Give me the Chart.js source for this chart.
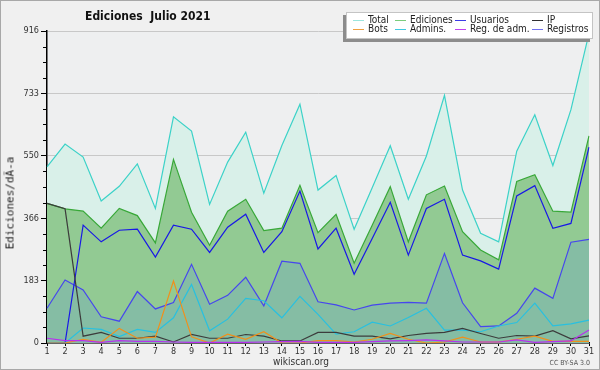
<!DOCTYPE html>
<html>
<head>
<meta charset="utf-8">
<script src="https://cdn.jsdelivr.net/npm/chart.js@4.4.1/dist/chart.umd.min.js"></script>
<style>
  html, body { margin: 0; padding: 0; background: #f0f0f0; }
  #wrap { position: relative; width: 600px; height: 370px; box-sizing: border-box; border: 1px solid #a8a8a8; background: #f0f0f0; overflow: hidden; }
  #chart { position: absolute; left: -1px; top: -1px; }
  .txt { position: absolute; font-family: "DejaVu Sans Condensed", "DejaVu Sans", sans-serif; color: #222; white-space: nowrap; }
  #title { left: 84px; top: 8px; font-size: 12px; font-weight: bold; color: #111; }
  #ylab { left: 9px; top: 202px; font-family: "DejaVu Sans Mono", monospace; font-size: 11px; transform: translate(-50%, -50%) rotate(-90deg); }
  #site { left: 300px; top: 355px; font-size: 10px; transform: translateX(-50%); color: #333; }
  #lic { right: 9px; top: 358px; font-size: 7px; color: #555; }
  #legend { position: absolute; left: 345px; top: 11px; width: 245px; height: 25px; background: #fff; border: 1px solid #c4c4c4; box-shadow: -3px 3px 0 #8c8c8c; }
</style>
</head>
<body>
<div id="wrap">
  <canvas id="chart" width="600" height="370"></canvas>
  <div id="title" class="txt">Ediciones&nbsp; Julio 2021</div>
  <div id="ylab" class="txt">Ediciones/dÃ-a</div>
  <div id="site" class="txt">wikiscan.org</div>
  <div id="lic" class="txt">CC BY-SA 3.0</div>
  <div id="legend"></div>
</div>
<script>
const days = ['1','2','3','4','5','6','7','8','9','10','11','12','13','14','15','16','17','18','19','20','21','22','23','24','25','26','27','28','29','30','31'];
const yTickLabels = [0, 183, 366, 550, 733, 916];

const total = [517, 584, 546, 417, 460, 526, 395, 664, 622, 407, 531, 619, 440, 580, 701, 449, 492, 334, 456, 579, 422, 549, 727, 449, 322, 297, 563, 670, 521, 685, 909];
const ediciones = [410, 394, 387, 337, 395, 374, 294, 539, 384, 287, 387, 422, 330, 337, 463, 324, 378, 234, 346, 459, 297, 435, 461, 327, 273, 244, 474, 494, 387, 384, 608];
const usuarios = [0, 0, 346, 297, 331, 334, 252, 346, 334, 266, 340, 378, 266, 327, 446, 276, 337, 202, 307, 413, 258, 395, 422, 258, 241, 217, 432, 462, 337, 351, 575];
const ip = [410, 394, 20, 31, 14, 14, 20, 3, 25, 14, 14, 25, 20, 6, 6, 31, 31, 20, 20, 12, 22, 28, 31, 43, 28, 14, 22, 20, 36, 12, 21];
const bots = [0, 0, 11, 2, 43, 14, 17, 182, 18, 0, 26, 11, 33, 0, 0, 7, 7, 3, 11, 28, 11, 0, 3, 17, 3, 3, 11, 20, 5, 5, 5];
const admins = [0, 0, 44, 40, 19, 40, 31, 74, 172, 36, 70, 131, 124, 74, 137, 84, 26, 33, 61, 50, 75, 102, 38, 38, 33, 50, 60, 117, 50, 56, 67];
const regAdm = [14, 7, 7, 2, 7, 5, 5, 3, 2, 2, 2, 2, 3, 4, 5, 2, 2, 2, 4, 6, 7, 9, 6, 3, 3, 3, 9, 2, 4, 6, 38];
const registros = [102, 185, 156, 77, 64, 151, 100, 119, 231, 114, 140, 193, 109, 240, 234, 121, 112, 97, 111, 117, 119, 117, 263, 118, 48, 50, 87, 161, 131, 296, 304];

// legend in the same order as the picture (two rows of four)
const legendItems = [
  ['Total', '#9be6de'], ['Ediciones', '#7ccc7c'], ['Usuarios', '#3c3ce6'], ['IP', '#303030'],
  ['Bots', '#f0a040'], ['Admins.', '#40c8e0'], ['Reg. de adm.', '#c040f0'], ['Registros', '#7070f0']
];
const legendCols = [21, 63, 123, 200];

const legendBox = document.getElementById('legend');
legendItems.forEach(function (item, i) {
  const col = i % 4, row = Math.floor(i / 4);
  const sw = document.createElement('div');
  sw.style.cssText = 'position:absolute;width:11px;height:1px;background:' + item[1] + ';left:' + (legendCols[col] - 15) + 'px;top:' + (7 + row * 9) + 'px;';
  const t = document.createElement('div');
  t.className = 'txt';
  t.textContent = item[0];
  t.style.cssText = 'left:' + legendCols[col] + 'px;top:' + (2 + row * 9) + 'px;font-size:10px;line-height:10px;';
  legendBox.appendChild(sw);
  legendBox.appendChild(t);
});

function line(label, data, color, order, fillColor) {
  return {
    label: label,
    data: data,
    borderColor: color,
    backgroundColor: fillColor || color,
    fill: fillColor ? 'origin' : false,
    borderWidth: 1.2,
    pointRadius: 0,
    tension: 0,
    order: order
  };
}

const plotBg = {
  id: 'plotBg',
  beforeDraw(chart) {
    const a = chart.chartArea, c = chart.ctx;
    c.save();
    c.fillStyle = '#eeeff0';
    c.fillRect(a.left, a.top, a.right - a.left, a.bottom - a.top);
    c.restore();
  }
};

// small tick marks between the labelled ones
const minorTicks = {
  id: 'minorTicks',
  afterDraw(chart) {
    const s = chart.scales.y, c = chart.ctx;
    c.save();
    c.strokeStyle = '#000';
    c.lineWidth = 1;
    for (let i = 0; i < yTickLabels.length - 1; i++) {
      const a = yTickLabels[i], b = yTickLabels[i + 1];
      for (let k = 1; k < 4; k++) {
        const y = Math.round(s.getPixelForValue(a + (b - a) * k / 4)) + 0.5;
        c.beginPath();
        c.moveTo(s.right - 4, y);
        c.lineTo(s.right, y);
        c.stroke();
      }
    }
    c.restore();
  }
};

new Chart(document.getElementById('chart'), {
  type: 'line',
  data: {
    labels: days,
    datasets: [
      line('Reg. de adm.', regAdm, '#b830f0', 1),
      line('Bots', bots, '#f0901c', 2),
      line('IP', ip, '#3c3c3c', 3),
      line('Admins.', admins, '#28c0e0', 4),
      line('Usuarios', usuarios, '#1818e6', 5),
      line('Registros', registros, '#4646ee', 6, '#85bda4'),
      line('Ediciones', ediciones, '#38a838', 7, '#92ca93'),
      line('Total', total, '#3cd2c8', 8, '#d9f0e9')
    ]
  },
  options: {
    responsive: false,
    animation: false,
    layout: { padding: { top: 31, right: 11, left: 0, bottom: 0 } },
    plugins: {
      legend: { display: false },
      tooltip: { enabled: false }
    },
    scales: {
      x: {
        afterFit(s) { s.height = 27; },
        border: { color: '#000', width: 1.5 },
        grid: { drawOnChartArea: false, tickLength: 3, tickColor: '#000' },
        ticks: {
          padding: 0, maxRotation: 0, autoSkip: false, color: '#333',
          font: { family: 'DejaVu Sans Condensed', size: 9 }
        }
      },
      y: {
        min: 0,
        max: 916,
        afterFit(s) { s.width = 47; },
        afterBuildTicks(s) { s.ticks = yTickLabels.map(v => ({ value: v })); },
        border: { color: '#000', width: 1.5 },
        grid: { color: '#c8c8c8', tickColor: '#000', tickLength: 6 },
        ticks: {
          padding: 2, color: '#333',
          font: { family: 'DejaVu Sans Condensed', size: 9 },
          callback: v => String(v)
        }
      }
    }
  },
  plugins: [plotBg, minorTicks]
});
</script>
</body>
</html>
